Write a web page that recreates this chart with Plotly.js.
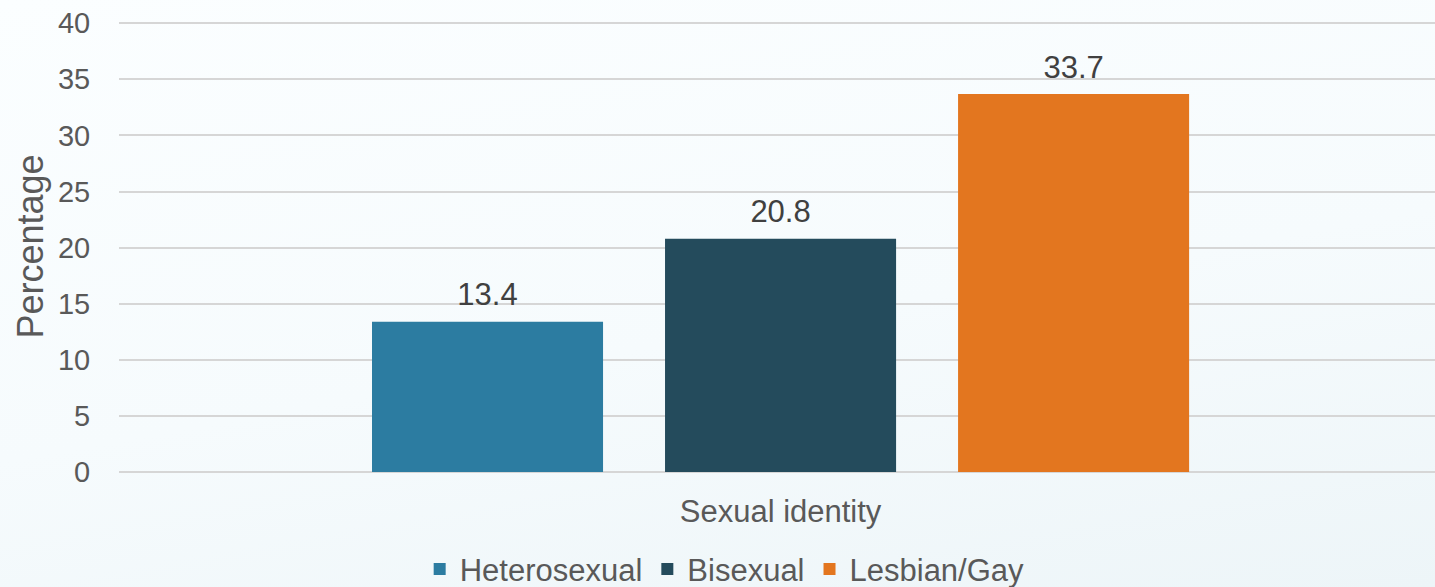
<!DOCTYPE html>
<html>
<head>
<meta charset="utf-8">
<script src="https://cdn.plot.ly/plotly-3.0.1.min.js"></script>
<style>
html,body{margin:0;padding:0;width:1435px;height:587px;overflow:hidden;
background:linear-gradient(170deg,#fbfeff 0%,#f6fbfd 55%,#edf5f8 100%);}
#chart{width:1435px;height:587px;}
</style>
</head>
<body>
<div id="chart"></div>
<script>
const category = ["Sexual identity"];
const seriesNames = ["Heterosexual", "Bisexual", "Lesbian/Gay"];
const seriesValues = [[13.4], [20.8], [33.7]];
const seriesColors = ["#2c7ca1", "#244b5c", "#e3761f"];
const yTicks = [0, 5, 10, 15, 20, 25, 30, 35, 40];

const font = "Liberation Sans, Arial, sans-serif";
const BARGAP = 0.332;

const barTraces = seriesNames.map((name, i) => ({
  type: "bar",
  name: name,
  x: category,
  y: seriesValues[i],
  marker: {color: seriesColors[i]},
  hoverinfo: "none"
}));

const labelTraces = seriesNames.map((name, i) => ({
  type: "scatter",
  mode: "markers+text",
  name: name + " label",
  showlegend: false,
  x: category,
  y: seriesValues[i],
  marker: {size: 12, opacity: 0},
  text: seriesValues[i].map(v => v.toFixed(1)),
  textposition: "top center",
  textfont: {family: font, size: 31, color: "#404040"},
  cliponaxis: false,
  hoverinfo: "none"
}));

const layout = {
  width: 1435, height: 587,
  margin: {l: 119, r: 0, t: 21, b: 115},
  paper_bgcolor: "rgba(0,0,0,0)",
  plot_bgcolor: "rgba(0,0,0,0)",
  barmode: "group",
  bargap: BARGAP,
  bargroupgap: 0.2115,
  scattermode: "group",
  scattergap: BARGAP,
  showlegend: true,
  legend: {
    orientation: "h", xref: "container", yref: "container",
    x: 0.505, xanchor: "center", y: 0.03, yanchor: "middle",
    font: {family: font, size: 31, color: "#595959"},
    itemwidth: 30, tracegroupgap: 0
  },
  xaxis: {
    type: "category",
    range: [-0.5027, 0.4973],
    showgrid: false, zeroline: false, showline: false,
    ticks: "outside", ticklen: 12, tickcolor: "rgba(0,0,0,0)",
    tickfont: {family: font, size: 31, color: "#595959"},
    fixedrange: true
  },
  yaxis: {
    range: [0, 40.2],
    tickvals: yTicks,
    ticktext: yTicks.map(String),
    showgrid: true, gridcolor: "#d6d6d6", gridwidth: 2,
    zeroline: true, zerolinecolor: "#d6d6d6", zerolinewidth: 2,
    showline: false,
    ticks: "outside", ticklen: 22, tickcolor: "rgba(0,0,0,0)",
    tickfont: {family: font, size: 29, color: "#595959"},
    title: {text: "Percentage", font: {family: font, size: 36, color: "#595959"}, standoff: 3},
    fixedrange: true
  }
};

Plotly.newPlot("chart", barTraces.concat(labelTraces), layout, {staticPlot: true, displayModeBar: false});
</script>
</body>
</html>
